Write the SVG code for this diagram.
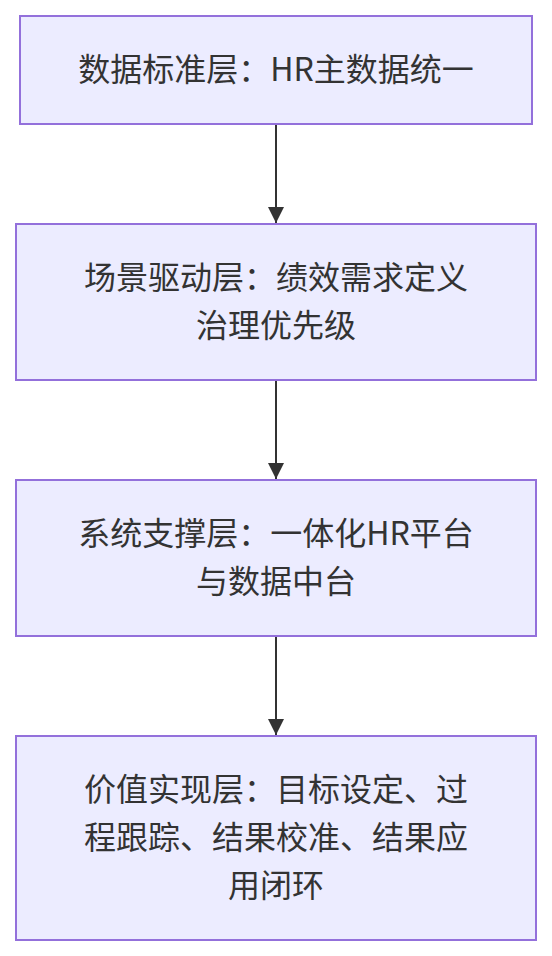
<svg xmlns="http://www.w3.org/2000/svg" width="552" height="956" viewBox="0 0 552 956">
<style>
.node rect{fill:#ECECFF;stroke:#9370DB;stroke-width:2}
.node text{font-family:"Noto Sans CJK SC","Noto Sans",sans-serif;font-size:32px;fill:#333;text-anchor:middle}
.edge{stroke:#333;stroke-width:2;fill:none}
</style>
<defs>
<marker id="arrow" markerUnits="userSpaceOnUse" markerWidth="16" markerHeight="16" refX="16" refY="8" orient="auto">
<path d="M0,0 L16,8 L0,16 z" fill="#333"/>
</marker>
</defs>
<rect width="552" height="956" fill="#fff"/>
<g id="connectors">
<line class="edge" x1="276" y1="125" x2="276" y2="223" marker-end="url(#arrow)"/>
<line class="edge" x1="276" y1="381" x2="276" y2="479" marker-end="url(#arrow)"/>
<line class="edge" x1="276" y1="637" x2="276" y2="735" marker-end="url(#arrow)"/>
</g>
<g id="n1" class="node">
<rect x="20" y="16" width="512" height="108"/>
<text x="276" y="81">数据标准层：HR主数据统一</text>
</g>
<g id="n2" class="node">
<rect x="16" y="224" width="520" height="156"/>
<text x="276" y="289">场景驱动层：绩效需求定义</text>
<text x="276" y="337">治理优先级</text>
</g>
<g id="n3" class="node">
<rect x="16" y="480" width="520" height="156"/>
<text x="276" y="545">系统支撑层：一体化HR平台</text>
<text x="276" y="593">与数据中台</text>
</g>
<g id="n4" class="node">
<rect x="16" y="736" width="520" height="204"/>
<text x="276" y="801">价值实现层：目标设定、过</text>
<text x="276" y="849">程跟踪、结果校准、结果应</text>
<text x="276" y="897">用闭环</text>
</g>
</svg>
